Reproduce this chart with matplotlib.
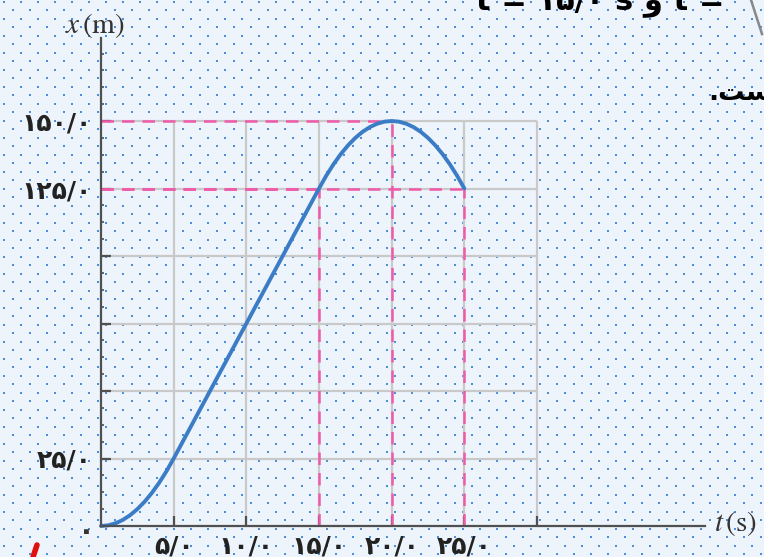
import numpy as np
import matplotlib.pyplot as plt
from matplotlib.lines import Line2D
from matplotlib.ticker import FixedLocator

plt.rcParams["mathtext.fontset"] = "stix"

# position-time curve x(t); denser readings where the curve bends
t_s = [0, 0.5, 1, 1.5, 2, 2.5, 3, 3.5, 4, 4.5, 5,
       6, 7, 8, 9, 10, 11, 12, 13, 14,
       15, 15.5, 16, 16.5, 17, 17.5, 18, 18.5, 19, 19.5, 20,
       20.5, 21, 21.5, 22, 22.5, 23, 23.5, 24, 24.5, 25]
x_m = [0, 0.25, 1, 2.25, 4, 6.25, 9, 12.25, 16, 20.25, 25,
       35, 45, 55, 65, 75, 85, 95, 105, 115,
       125, 129.75, 134, 137.75, 141, 143.75, 146, 147.75, 149, 149.75, 150,
       149.75, 149, 147.75, 146, 143.75, 141, 137.75, 134, 129.75, 125]

t_ticks = [5, 10, 15, 20, 25, 30]
t_labeled = [5, 10, 15, 20, 25]
x_grid = [25, 50, 75, 100, 125, 150]
x_labeled = [25, 125, 150]

# guide lines: (t, x) of the marked points
t_marks = [15, 20, 25]
x_marks = [125, 150, 125]

FA = str.maketrans("0123456789.", "۰۱۲۳۴۵۶۷۸۹/")


def fa(v):
    return f"{v:.1f}".translate(FA)


W, H = 764, 557
X0, PX_T = 101, 436 / 30      # pixel of t=0, pixels per second
Y0, PX_X = 526, 405 / 150     # pixel of x=0, pixels per metre
Y_TOP = (Y0 - 38) / PX_X      # top end of the x axis line

BG = "#edf4fb"
DOT = "#4a8fdc"
AXC = "#505050"
GRID = "#c9c9c9"
PINK = "#ef5aa9"
BLUE = "#3b7cc6"

fig = plt.figure(figsize=(W / 100, H / 100), dpi=100, facecolor=BG)

# dotted paper background
bg = fig.add_axes([0, 0, 1, 1], zorder=0)
bg.set_xlim(0, W)
bg.set_ylim(H, 0)
bg.axis("off")
gx, gy = np.meshgrid(np.arange(0, W + 9, 8.5) + 4.0, np.arange(0, H + 9, 8.5) + 1.5)
k = np.rint((gx - 4.0) / 8.5).astype(int) + np.rint((gy - 1.5) / 8.5).astype(int)
sel = k % 2 == 0
bg.scatter(gx[sel], gy[sel], s=3.2, marker="s", color=DOT, linewidths=0)

ax = fig.add_axes([0, 0, 1, 1], zorder=1)
ax.set_facecolor("none")
ax.set_xlim(-X0 / PX_T, (W - X0) / PX_T)
ax.set_ylim(-(H - Y0) / PX_X, Y0 / PX_X)

# grid box
ax.vlines(t_ticks, 0, max(x_grid), color=GRID, lw=1.6, zorder=1)
ax.hlines(x_grid, 0, max(t_ticks), color=GRID, lw=1.6, zorder=1)

# dashed guides to the marked points
for tm, xm in zip(t_marks, x_marks):
    ax.plot([0, tm], [xm, xm], color=PINK, lw=1.8, dashes=(5, 3.2), zorder=2)
    ax.plot([tm, tm], [0, xm], color=PINK, lw=1.8, dashes=(5, 3.2), zorder=2)

ax.plot(t_s, x_m, color=BLUE, lw=2.8, solid_capstyle="round",
        solid_joinstyle="round", zorder=3)

# axes through the origin
for side in ("top", "right"):
    ax.spines[side].set_visible(False)
ax.spines["left"].set_position(("data", 0))
ax.spines["bottom"].set_position(("data", 0))
ax.spines["left"].set_bounds(0, Y_TOP)
ax.spines["bottom"].set_bounds(0, (705 - X0) / PX_T)
for side in ("left", "bottom"):
    ax.spines[side].set_color(AXC)
    ax.spines[side].set_linewidth(1.6)
    ax.spines[side].set_zorder(4)

ax.set_xticks(t_ticks)
ax.set_xticklabels([fa(v) if v in t_labeled else "" for v in t_ticks])
ax.set_yticks(x_grid)
ax.set_yticklabels([fa(v) if v in x_labeled else "" for v in x_grid])
ax.yaxis.set_minor_locator(FixedLocator(np.arange(6.25, Y_TOP - 5, 6.25)))
ax.tick_params(axis="both", which="major", direction="in", length=7, width=1.6,
               color=AXC, labelsize=18, labelcolor="#222222")
ax.tick_params(axis="y", which="minor", direction="in", length=2.5, width=1.2, color=AXC)
ax.tick_params(axis="x", pad=6)
ax.tick_params(axis="y", pad=7)
for lab in ax.get_xticklabels() + ax.get_yticklabels():
    lab.set_fontweight("bold")

# zero at the origin
ax.text(-0.45, 3.3, "۰", ha="right", va="top", fontsize=20, fontweight="bold", color="#333333")

# axis titles
ax.text(-2.5, (Y0 - 25) / PX_X, r"$x\,(\mathrm{m})$", ha="left", va="center", fontsize=21, color="#333333")
fig.text(714 / W, 1 - 523 / H, r"$t\,(\mathrm{s})$", ha="left", va="center", fontsize=21, color="#333333")

# page text around the figure
fig.text(476 / W, 1 - 9 / H, "t = ۱۵/۰ s و t =", ha="left", va="baseline",
         fontsize=22, fontweight="bold", color="black")
fig.text(708 / W, 1 - 100 / H, ".ﺖﺳ", ha="left", va="baseline",
         fontsize=19, fontweight="bold", color="black")
fig.add_artist(Line2D([751 / W, 762 / W], [1.0, 1 - 34 / H], color="#888888", lw=1.8))
fig.add_artist(Line2D([33 / W, 37 / W], [0.0, 1 - 545 / H], color="#e01010", lw=4,
                      solid_capstyle="round"))

fig.savefig("out.png", dpi=100, facecolor=BG)
